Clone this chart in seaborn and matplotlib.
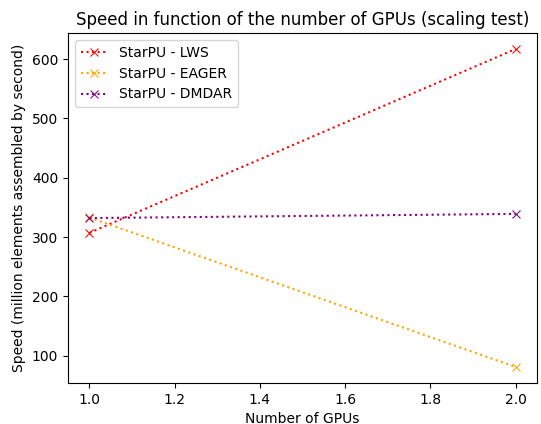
import matplotlib
matplotlib.use("Agg")
import matplotlib.pyplot as plt
import seaborn as sns
import pandas as pd

gpus = [1, 2]
lws = [307, 617]
eager = [333, 81]
dmdar = [332, 339]
labels = ["StarPU - LWS", "StarPU - EAGER", "StarPU - DMDAR"]
colors = ["red", "orange", "purple"]

fig, ax = plt.subplots(figsize=(5.41, 4.24), dpi=100)
for vals, lab, col in zip([lws, eager, dmdar], labels, colors):
    df = pd.DataFrame({"gpus": gpus, "speed": vals})
    sns.lineplot(data=df, x="gpus", y="speed", ax=ax, color=col, linestyle=":",
                 marker="x", label=lab, markeredgecolor=col)

ax.set_title("Speed in function of the number of GPUs (scaling test)")
ax.set_xlabel("Number of GPUs")
ax.set_ylabel("Speed (million elements assembled by second)")
ax.legend(loc="upper left")
fig.subplots_adjust(left=0.1257, right=0.9926, top=0.922, bottom=0.097)
fig.savefig("out.png", dpi=100)
